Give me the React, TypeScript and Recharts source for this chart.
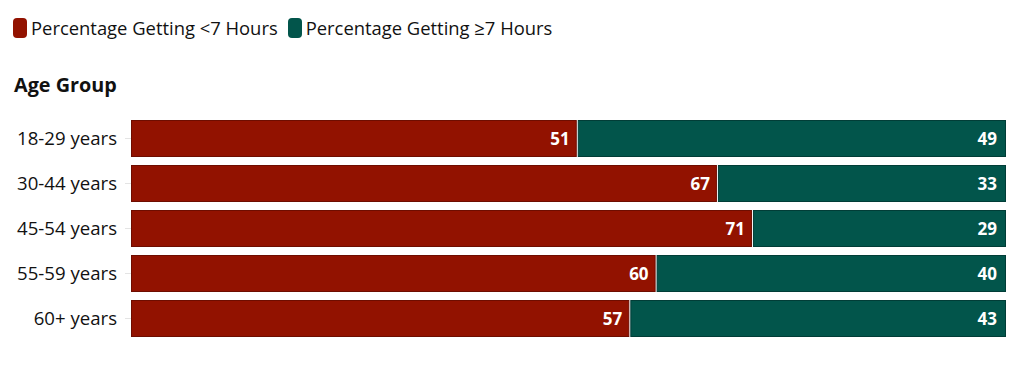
import React from "react";
import { BarChart, Bar, XAxis, YAxis, LabelList } from "recharts";

const ageGroups = ["18-29 years", "30-44 years", "45-54 years", "55-59 years", "60+ years"];
const lessThan7 = [51, 67, 71, 60, 57];
const atLeast7 = [49, 33, 29, 40, 43];
const seriesLabels = ["Percentage Getting <7 Hours", "Percentage Getting \u22657 Hours"];

const RED = "#921200";
const GREEN = "#02554b";
const FONT = "'Open Sans', 'Noto Sans', sans-serif";

const data = ageGroups.map((age, i) => ({ age, under: lessThan7[i], over: atLeast7[i] }));
const legendItems = [
  { label: seriesLabels[0], color: RED },
  { label: seriesLabels[1], color: GREEN },
];

function SegmentShape(props: any) {
  const { x, y, width, height, fill, stroke } = props;
  return (
    <rect
      x={x + 0.5}
      y={y + 0.5}
      width={Math.max(width - 2, 0)}
      height={height - 1}
      fill={fill}
      stroke={stroke}
      strokeWidth={1}
    />
  );
}

export default function App() {
  return (
    <div style={{ position: "relative", width: 1016, height: 358, background: "#fff", fontFamily: FONT }}>
      <div style={{ position: "absolute", top: 7, left: 5, display: "flex", alignItems: "center", fontSize: 18.4, color: "#111" }}>
        {legendItems.map((it) => (
          <div key={it.label} style={{ display: "flex", alignItems: "center", marginRight: 10 }}>
            <span
              style={{
                display: "inline-block",
                width: 14,
                height: 20,
                borderRadius: 4,
                background: it.color,
                marginRight: 4,
              }}
            />
            <span>{it.label}</span>
          </div>
        ))}
      </div>
      <div style={{ position: "absolute", top: 63, left: 6, fontWeight: 700, fontSize: 19.8, color: "#111" }}>
        Age Group
      </div>
      <BarChart
        width={1016}
        height={358}
        data={data}
        layout="vertical"
        barCategoryGap={4}
        margin={{ top: 108, right: 17, bottom: 25, left: 0 }}
      >
        <XAxis type="number" domain={[0, 100]} hide />
        <YAxis
          type="category"
          dataKey="age"
          width={123}
          interval={0}
          axisLine={false}
          tickLine={{ stroke: "#e4e4e4" }}
          tickSize={6}
          tickMargin={8}
          tick={{ fill: "#111", fontSize: 18.6, fontFamily: FONT }}
        />
        <Bar dataKey="under" stackId="a" fill={RED} stroke="#6e0d00" shape={<SegmentShape />} isAnimationActive={false}>
          <LabelList
            dataKey="under"
            position="insideRight"
            offset={8}
            fill="#fff"
            style={{ fontFamily: FONT, fontSize: 17, fontWeight: 700 }}
          />
        </Bar>
        <Bar dataKey="over" stackId="a" fill={GREEN} stroke="#013d37" shape={<SegmentShape />} isAnimationActive={false}>
          <LabelList
            dataKey="over"
            position="insideRight"
            offset={10}
            fill="#fff"
            style={{ fontFamily: FONT, fontSize: 17, fontWeight: 700 }}
          />
        </Bar>
      </BarChart>
    </div>
  );
}
